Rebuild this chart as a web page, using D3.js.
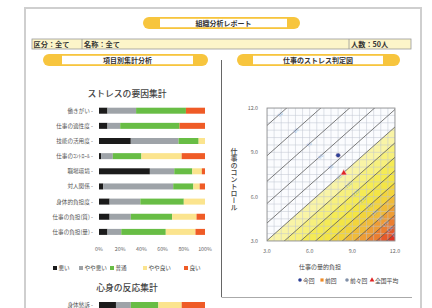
<!DOCTYPE html>
<html>
<head>
<meta charset="utf-8">
<script src="https://cdn.jsdelivr.net/npm/d3@7"></script>
<style>
  body { margin: 0; background: #fff; }
  svg { display: block; font-family: "Noto Sans CJK JP", "Noto Sans", sans-serif; }
  .vtitle { writing-mode: vertical-rl; text-orientation: upright; }
</style>
</head>
<body>
<svg id="chart" width="432" height="308"></svg>
<script>
// stress factor bars (percent per level)
const categories = ["働きがい", "仕事の適性度", "技能の活用度", "仕事のｺﾝﾄﾛｰﾙ", "職場環境", "対人関係", "身体的負担度", "仕事の負担(質)", "仕事の負担(量)"];
const levels = ["悪い", "やや悪い", "普通", "やや良い", "良い"];
const bad          = [8, 8, 30, 2, 48, 4, 10, 10, 8];
const slightlyBad  = [27, 12, 45, 11, 23, 66, 29, 20, 13];
const normal       = [47, 56, 19, 27, 17, 19, 41, 39, 42];
const slightlyGood = [0, 0, 6, 38, 9, 6, 20, 23, 28];
const good         = [18, 24, 0, 22, 3, 5, 0, 8, 9];
const pctTicks = [0, 20, 40, 60, 80, 100];

// reaction bars
const reactionCategories = ["身体愁訴"];
const reactionValues = [[16, 14, 26, 22, 22]];

// stress judgement diagram
const axisTicks = [3, 6, 9, 12];
const riskLevels = [50, 60, 70, 80, 90, 100, 110, 120, 130, 140, 150, 160, 170, 180, 190];
const pointNames = ["今回", "前回", "前々回", "全国平均"];
const pointLoad = [8.0, null, null, 8.4];
const pointControl = [8.8, null, null, 7.6];

const levelColors = ["#1b1b1b", "#9ea3a8", "#68bd45", "#fbe48e", "#ef5b26"];
const bandColors = {100: "#f9f4a6", 110: "#f7f07c", 120: "#f5eb55", 130: "#f4e545", 140: "#f3d43c",
                    150: "#f0bb3a", 160: "#ee9d36", 170: "#eb7e30", 180: "#e65a2a", 190: "#e03322"};
const pointColors = ["#2d3f96", "#f08a24", "#8090a8", "#e02424"];

const svg = d3.select("#chart");

// sheet
svg.append("rect").attr("x", 25).attr("y", 8).attr("width", 396).attr("height", 320)
  .attr("fill", "#fff").attr("stroke", "#cfcfcf").attr("stroke-width", 2);

function pill(x0, x1, y0, y1, ix0, ix1, label) {
  const g = svg.append("g");
  g.append("rect").attr("x", x0).attr("y", y0).attr("width", x1 - x0).attr("height", y1 - y0)
    .attr("rx", (y1 - y0) / 2).attr("fill", "#f7c53e");
  g.append("rect").attr("x", ix0).attr("y", y0 + 1.8).attr("width", ix1 - ix0).attr("height", y1 - y0 - 3.6)
    .attr("fill", "#fff");
  g.append("text").attr("x", (ix0 + ix1) / 2).attr("y", (y0 + y1) / 2 + 0.3)
    .attr("text-anchor", "middle").attr("dominant-baseline", "central")
    .attr("font-size", 7).attr("font-weight", "bold").attr("fill", "#333").text(label);
}
pill(143, 300, 17, 29, 160, 287, "組織分析レポート");
pill(43, 208, 54, 66, 62, 193, "項目別集計分析");
pill(237, 400, 54, 66, 253, 383, "仕事のストレス判定図");

// info bar
const info = svg.append("g");
info.append("rect").attr("x", 32).attr("y", 39).attr("width", 379).attr("height", 10)
  .attr("fill", "#fcf5c9").attr("stroke", "#9a9a9a").attr("stroke-width", 0.8);
[82, 349].forEach(x => info.append("line").attr("x1", x).attr("x2", x).attr("y1", 39).attr("y2", 49)
  .attr("stroke", "#9a9a9a").attr("stroke-width", 0.8));
[[33.5, "区分：全て"], [84, "名称：全て"], [351, "人数：50人"]].forEach(([x, t]) =>
  info.append("text").attr("x", x).attr("y", 44.3).attr("dominant-baseline", "central")
    .attr("font-size", 7.2).attr("font-weight", "bold").attr("fill", "#333").text(t));

// divider
svg.append("line").attr("x1", 221.5).attr("x2", 221.5).attr("y1", 60).attr("y2", 297)
  .attr("stroke", "#666").attr("stroke-width", 1);
svg.append("line").attr("x1", 221.5).attr("x2", 412).attr("y1", 297.5).attr("y2", 297.5)
  .attr("stroke", "#aaa").attr("stroke-width", 1);

// ---------- left: stacked bars ----------
const series = [bad, slightlyBad, normal, slightlyGood, good];
const rows = categories.map((c, i) => {
  const r = {cat: c};
  levels.forEach((l, j) => r[l] = series[j][i]);
  return r;
});
const stack = d3.stack().keys(levels);
const xb = d3.scaleLinear().domain([0, 100]).range([99, 205]);
const yb = d3.scalePoint().domain(categories).range([110.7, 231.9]);
const barH = 6;

function sectionTitle(t, yy) {
  svg.append("text").attr("x", 127).attr("y", yy).attr("text-anchor", "middle").attr("dominant-baseline", "central")
    .attr("font-size", 8.8).attr("font-weight", 500).attr("fill", "#444").text(t);
}
sectionTitle("ストレスの要因集計", 93);

svg.append("g").selectAll("g").data(stack(rows)).join("g")
  .attr("fill", (d, i) => levelColors[i])
  .selectAll("rect").data(d => d).join("rect")
  .attr("x", d => xb(d[0])).attr("width", d => xb(d[1]) - xb(d[0]))
  .attr("y", d => yb(d.data.cat) - barH / 2).attr("height", barH);

svg.append("g").selectAll("text").data(categories).join("text")
  .attr("x", 93).attr("y", d => yb(d)).attr("text-anchor", "end").attr("dominant-baseline", "central")
  .attr("font-size", 5.6).attr("fill", "#555").text(d => d + " -");

svg.append("g").selectAll("text").data(pctTicks).join("text")
  .attr("x", d => xb(d)).attr("y", 249).attr("text-anchor", "middle").attr("dominant-baseline", "central")
  .attr("font-size", 5.3).attr("fill", "#666").text(d => d + "%");

const legX = [53, 79, 110, 143, 184];
const leg = svg.append("g").selectAll("g").data(levels).join("g")
  .attr("transform", (d, i) => `translate(${legX[i]},268)`);
leg.append("rect").attr("x", 0).attr("y", -2).attr("width", 4).attr("height", 4)
  .attr("fill", (d, i) => levelColors[i]);
leg.append("text").attr("x", 5.5).attr("y", 0).attr("dominant-baseline", "central")
  .attr("font-size", 5.6).attr("fill", "#444").text(d => d);

sectionTitle("心身の反応集計", 287);

const reactionRows = reactionCategories.map((c, i) => {
  const r = {cat: c};
  levels.forEach((l, j) => r[l] = reactionValues[i][j]);
  return r;
});
const yr = d3.scalePoint().domain(reactionCategories).range([305, 305]);
svg.append("g").selectAll("g").data(stack(reactionRows)).join("g")
  .attr("fill", (d, i) => levelColors[i])
  .selectAll("rect").data(d => d).join("rect")
  .attr("x", d => xb(d[0])).attr("width", d => xb(d[1]) - xb(d[0]))
  .attr("y", d => yr(d.data.cat) - barH / 2).attr("height", barH);
svg.append("g").selectAll("text").data(reactionCategories).join("text")
  .attr("x", 93).attr("y", d => yr(d)).attr("text-anchor", "end").attr("dominant-baseline", "central")
  .attr("font-size", 5.6).attr("fill", "#555").text(d => d + " -");

// ---------- right: judgement diagram ----------
const x = d3.scaleLinear().domain([3, 12]).range([267, 395]);
const y = d3.scaleLinear().domain([3, 12]).range([241, 108]);
// health risk = 100 * exp(0.076*(load-8.7) - 0.089*(control-7.9))
const lineY = (load, r) => 7.9 + (0.076 * (load - 8.7) - Math.log(r / 100)) / 0.089;

svg.append("clipPath").attr("id", "plotClip").append("rect")
  .attr("x", x(3)).attr("y", y(12)).attr("width", x(12) - x(3)).attr("height", y(3) - y(12));
const plot = svg.append("g").attr("clip-path", "url(#plotClip)");

plot.append("rect").attr("x", x(3)).attr("y", y(12)).attr("width", x(12) - x(3)).attr("height", y(3) - y(12))
  .attr("fill", "#fbfcfe");

plot.selectAll("path.band").data(riskLevels.filter(r => r >= 100)).join("path")
  .attr("class", "band")
  .attr("d", r => d3.line()([[x(3), y(lineY(3, r))], [x(12), y(lineY(12, r))], [x(12), y(-10)], [x(3), y(-10)]]))
  .attr("fill", r => bandColors[r]);

const grid = d3.range(3, 12.01, 0.5);
plot.append("g").selectAll("line").data(grid).join("line")
  .attr("x1", d => x(d)).attr("x2", d => x(d)).attr("y1", y(3)).attr("y2", y(12))
  .attr("stroke", "#bfc5d0").attr("stroke-width", 0.5);
plot.append("g").selectAll("line").data(grid).join("line")
  .attr("y1", d => y(d)).attr("y2", d => y(d)).attr("x1", x(3)).attr("x2", x(12))
  .attr("stroke", "#bfc5d0").attr("stroke-width", 0.5);

plot.append("g").selectAll("line").data(riskLevels).join("line")
  .attr("x1", x(3)).attr("y1", r => y(lineY(3, r)))
  .attr("x2", x(12)).attr("y2", r => y(lineY(12, r)))
  .attr("stroke", "#5a5a5a").attr("stroke-width", 0.8);

// risk labels on the anti-diagonal (load + control = 15.5)
const ang = -Math.atan(((y(3) - y(12)) / 9 * 0.076 / 0.089) / ((x(12) - x(3)) / 9)) * 180 / Math.PI;
plot.append("g").selectAll("text").data(riskLevels).join("text")
  .attr("transform", r => {
    const lx = (Math.log(r / 100) + 0.076 * 8.7 + 0.089 * (15.5 - 7.9)) / (0.076 + 0.089);
    return `translate(${x(lx)},${y(15.5 - lx)}) rotate(${ang})`;
  })
  .attr("text-anchor", "middle").attr("dominant-baseline", "central")
  .attr("font-size", 4.5).attr("fill", "#8db3e2").attr("opacity", 0.9).text(r => r);

svg.append("rect").attr("x", x(3)).attr("y", y(12)).attr("width", x(12) - x(3)).attr("height", y(3) - y(12))
  .attr("fill", "none").attr("stroke", "#888").attr("stroke-width", 0.8);

svg.append("g").selectAll("text").data(axisTicks).join("text")
  .attr("x", 258).attr("y", d => y(d)).attr("text-anchor", "end").attr("dominant-baseline", "central")
  .attr("font-size", 5.3).attr("fill", "#666").text(d3.format(".1f"));
svg.append("g").selectAll("text").data(axisTicks).join("text")
  .attr("x", d => x(d)).attr("y", 251).attr("text-anchor", "middle").attr("dominant-baseline", "central")
  .attr("font-size", 5.3).attr("fill", "#666").text(d3.format(".1f"));

// vertical axis title
svg.append("text").attr("class", "vtitle").attr("x", 234).attr("y", 179)
  .attr("text-anchor", "middle").attr("font-size", 7).attr("font-weight", 500).attr("fill", "#444")
  .text("仕事のコントロール");

svg.append("text").attr("x", 320).attr("y", 266).attr("text-anchor", "middle").attr("dominant-baseline", "central")
  .attr("font-size", 6).attr("fill", "#444").text("仕事の量的負担");

const symbols = [d3.symbolCircle, d3.symbolSquare, d3.symbolCircle, d3.symbolTriangle];
const pts = pointNames.map((n, i) => ({name: n, i, load: pointLoad[i], control: pointControl[i]}))
  .filter(d => d.load != null);
svg.append("g").selectAll("path").data(pts).join("path")
  .attr("transform", d => `translate(${x(d.load)},${y(d.control)})`)
  .attr("d", d => d3.symbol(symbols[d.i], 18)())
  .attr("fill", d => pointColors[d.i]).attr("stroke", "#f4e0e0").attr("stroke-width", 0.6);

const lx = [298, 320, 345, 370];
const pl = svg.append("g").selectAll("g").data(pointNames).join("g")
  .attr("transform", (d, i) => `translate(${lx[i]},280)`);
pl.append("path").attr("transform", "translate(2,0)")
  .attr("d", (d, i) => d3.symbol(symbols[i], 10)()).attr("fill", (d, i) => pointColors[i]);
pl.append("text").attr("x", 5).attr("y", 0).attr("dominant-baseline", "central")
  .attr("font-size", 5.8).attr("fill", "#444").text(d => d);
</script>
</body>
</html>
